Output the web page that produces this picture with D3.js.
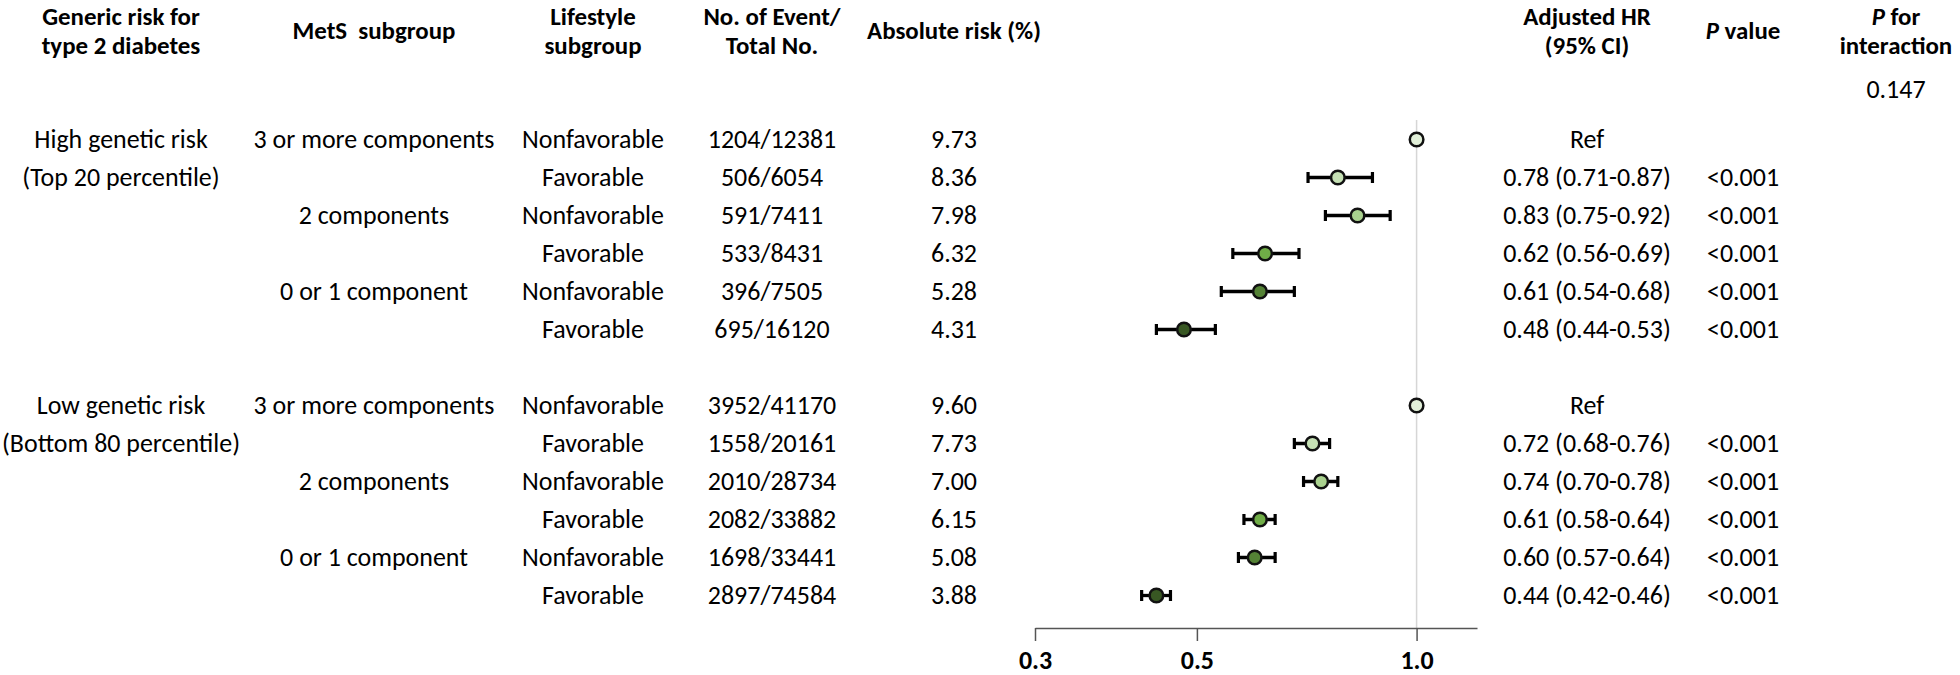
<!DOCTYPE html>
<html>
<head>
<meta charset="utf-8">
<script src="https://cdn.jsdelivr.net/npm/d3@7"></script>
<style>
  html, body { margin: 0; padding: 0; background: #fff; }
  svg { display: block; }
  text { font-family: Carlito, Calibri, Lato, "Open Sans", sans-serif; fill: #000; }
  .hdr { font-weight: bold; }
</style>
</head>
<body>
<svg id="chart" width="1960" height="675"></svg>
<script>
// ---------------- data ----------------
const geneticLabels = [
  { row: 0, text: "High genetic risk" },
  { row: 1, text: "(Top 20 percentile)" },
  { row: 7, text: "Low genetic risk" },
  { row: 8, text: "(Bottom 80 percentile)" }
];
const metsLabels = [
  { row: 0, text: "3 or more components" },
  { row: 2, text: "2 components" },
  { row: 4, text: "0 or 1 component" },
  { row: 7, text: "3 or more components" },
  { row: 9, text: "2 components" },
  { row: 11, text: "0 or 1 component" }
];
const rowIndex = [0, 1, 2, 3, 4, 5, 7, 8, 9, 10, 11, 12];
const lifestyle = ["Nonfavorable", "Favorable", "Nonfavorable", "Favorable", "Nonfavorable", "Favorable",
                   "Nonfavorable", "Favorable", "Nonfavorable", "Favorable", "Nonfavorable", "Favorable"];
const events = ["1204/12381", "506/6054", "591/7411", "533/8431", "396/7505", "695/16120",
                "3952/41170", "1558/20161", "2010/28734", "2082/33882", "1698/33441", "2897/74584"];
const absRisk = ["9.73", "8.36", "7.98", "6.32", "5.28", "4.31", "9.60", "7.73", "7.00", "6.15", "5.08", "3.88"];
const hr   = [1.00, 0.78, 0.83, 0.62, 0.61, 0.48, 1.00, 0.72, 0.74, 0.61, 0.60, 0.44];
const ciLo = [null, 0.71, 0.75, 0.56, 0.54, 0.44, null, 0.68, 0.70, 0.58, 0.57, 0.42];
const ciHi = [null, 0.87, 0.92, 0.69, 0.68, 0.53, null, 0.76, 0.78, 0.64, 0.64, 0.46];
const hrText = ["Ref", "0.78 (0.71-0.87)", "0.83 (0.75-0.92)", "0.62 (0.56-0.69)", "0.61 (0.54-0.68)", "0.48 (0.44-0.53)",
                "Ref", "0.72 (0.68-0.76)", "0.74 (0.70-0.78)", "0.61 (0.58-0.64)", "0.60 (0.57-0.64)", "0.44 (0.42-0.46)"];
const pText = ["", "<0.001", "<0.001", "<0.001", "<0.001", "<0.001",
               "", "<0.001", "<0.001", "<0.001", "<0.001", "<0.001"];
const pInteraction = "0.147";
const colorKeys = [0, 1, 2, 3, 4, 5, 0, 1, 2, 3, 4, 5];
const palette = ["#e2f0d9", "#c5e0b4", "#a9d18e", "#70ad47", "#548235", "#385723"];
const axisTicks = [0.3, 0.5, 1.0];

// ---------------- layout ----------------
const svg = d3.select("#chart");

// fit font size so the body font matches the reference widths
const probe = svg.append("text").attr("font-size", 100).text("Nonfavorable");
const pw = probe.node().getComputedTextLength();
probe.remove();
const FS = Math.max(18, Math.min(28, 100 * 142 / pw));
const HFS = FS * 0.96;

const x = d3.scaleLog().domain([0.3, 1.21]).range([1035, 1477]);
const y = d3.scaleLinear().domain([0, 12]).range([139.5, 595.5]);
const base = 8; // baseline offset from row centre

const col = { gen: 121, mets: 374, life: 593, ev: 772, abs: 954, hr: 1587, p: 1743, inter: 1896 };

// headers
const L1 = 24.5, L2 = 54, LM = 39;
const headers = [
  { x: col.gen, y: L1, t: "Generic risk for" },
  { x: col.gen, y: L2, t: "type 2 diabetes" },
  { x: col.mets, y: LM, t: "MetS\u00a0\u00a0subgroup" },
  { x: col.life, y: L1, t: "Lifestyle" },
  { x: col.life, y: L2, t: "subgroup" },
  { x: col.ev, y: L1, t: "No. of Event/" },
  { x: col.ev, y: L2, t: "Total No." },
  { x: col.abs, y: LM, t: "Absolute risk (%)" },
  { x: col.hr, y: L1, t: "Adjusted HR" },
  { x: col.hr, y: L2, t: "(95% CI)" },
  { x: col.inter, y: L2, t: "interaction" }
];
svg.append("g").selectAll("text").data(headers).join("text")
  .attr("class", "hdr").attr("font-size", HFS).attr("text-anchor", "middle")
  .attr("x", d => d.x).attr("y", d => d.y).text(d => d.t);

const pv = svg.append("text").attr("class", "hdr").attr("font-size", HFS)
  .attr("text-anchor", "middle").attr("x", col.p).attr("y", LM);
pv.append("tspan").attr("font-style", "italic").text("P");
pv.append("tspan").text(" value");
const pf = svg.append("text").attr("class", "hdr").attr("font-size", HFS)
  .attr("text-anchor", "middle").attr("x", col.inter).attr("y", L1);
pf.append("tspan").attr("font-style", "italic").text("P");
pf.append("tspan").text(" for");

svg.append("text").attr("font-size", FS).attr("text-anchor", "middle")
  .attr("x", col.inter).attr("y", 98).text(pInteraction);

// left label columns
svg.append("g").selectAll("text").data(geneticLabels).join("text")
  .attr("font-size", FS).attr("text-anchor", "middle")
  .attr("x", col.gen).attr("y", d => y(d.row) + base).text(d => d.text);
svg.append("g").selectAll("text").data(metsLabels).join("text")
  .attr("font-size", FS).attr("text-anchor", "middle")
  .attr("x", col.mets).attr("y", d => y(d.row) + base).text(d => d.text);

const rows = rowIndex.map((r, i) => ({
  r, life: lifestyle[i], ev: events[i], abs: absRisk[i], hr: hr[i], lo: ciLo[i], hi: ciHi[i],
  hrT: hrText[i], p: pText[i], c: palette[colorKeys[i]]
}));

function textCol(key, cx) {
  svg.append("g").selectAll("text").data(rows).join("text")
    .attr("font-size", FS).attr("text-anchor", "middle")
    .attr("x", cx).attr("y", d => y(d.r) + base).text(d => d[key]);
}
textCol("life", col.life);
textCol("ev", col.ev);
textCol("abs", col.abs);
textCol("hrT", col.hr);
textCol("p", col.p);

// reference line at HR = 1
svg.append("line").attr("x1", x(1)).attr("x2", x(1)).attr("y1", 120).attr("y2", 628)
  .attr("stroke", "#d6d6d6").attr("stroke-width", 1.5);

// axis
const axis = d3.axisBottom(x).tickValues(axisTicks).tickFormat(d3.format(".1f"))
  .tickSize(13).tickSizeOuter(0).tickPadding(10);
const ag = svg.append("g").attr("transform", "translate(0,628)").call(axis);
ag.select(".domain").attr("stroke", "#555").attr("stroke-width", 1.5);
ag.selectAll(".tick line").attr("stroke", "#555").attr("stroke-width", 1.5);
ag.selectAll(".tick text").attr("font-size", FS).attr("font-weight", "bold")
  .attr("font-family", "Carlito, Calibri, Lato, 'Open Sans', sans-serif").attr("fill", "#000");

// CI bars
const ci = rows.filter(d => d.lo != null);
const g = svg.append("g");
g.selectAll("line.ci").data(ci).join("line").attr("class", "ci")
  .attr("x1", d => x(d.lo)).attr("x2", d => x(d.hi))
  .attr("y1", d => y(d.r)).attr("y2", d => y(d.r))
  .attr("stroke", "#000").attr("stroke-width", 3.3);
g.selectAll("line.capL").data(ci).join("line").attr("class", "capL")
  .attr("x1", d => x(d.lo)).attr("x2", d => x(d.lo))
  .attr("y1", d => y(d.r) - 5.5).attr("y2", d => y(d.r) + 5.5)
  .attr("stroke", "#000").attr("stroke-width", 3.2);
g.selectAll("line.capH").data(ci).join("line").attr("class", "capH")
  .attr("x1", d => x(d.hi)).attr("x2", d => x(d.hi))
  .attr("y1", d => y(d.r) - 5.5).attr("y2", d => y(d.r) + 5.5)
  .attr("stroke", "#000").attr("stroke-width", 3.2);

// points
g.selectAll("circle").data(rows).join("circle")
  .attr("cx", d => x(d.hr)).attr("cy", d => y(d.r)).attr("r", 6.8)
  .attr("fill", d => d.c).attr("stroke", "#111").attr("stroke-width", 2.5);
</script>
</body>
</html>
